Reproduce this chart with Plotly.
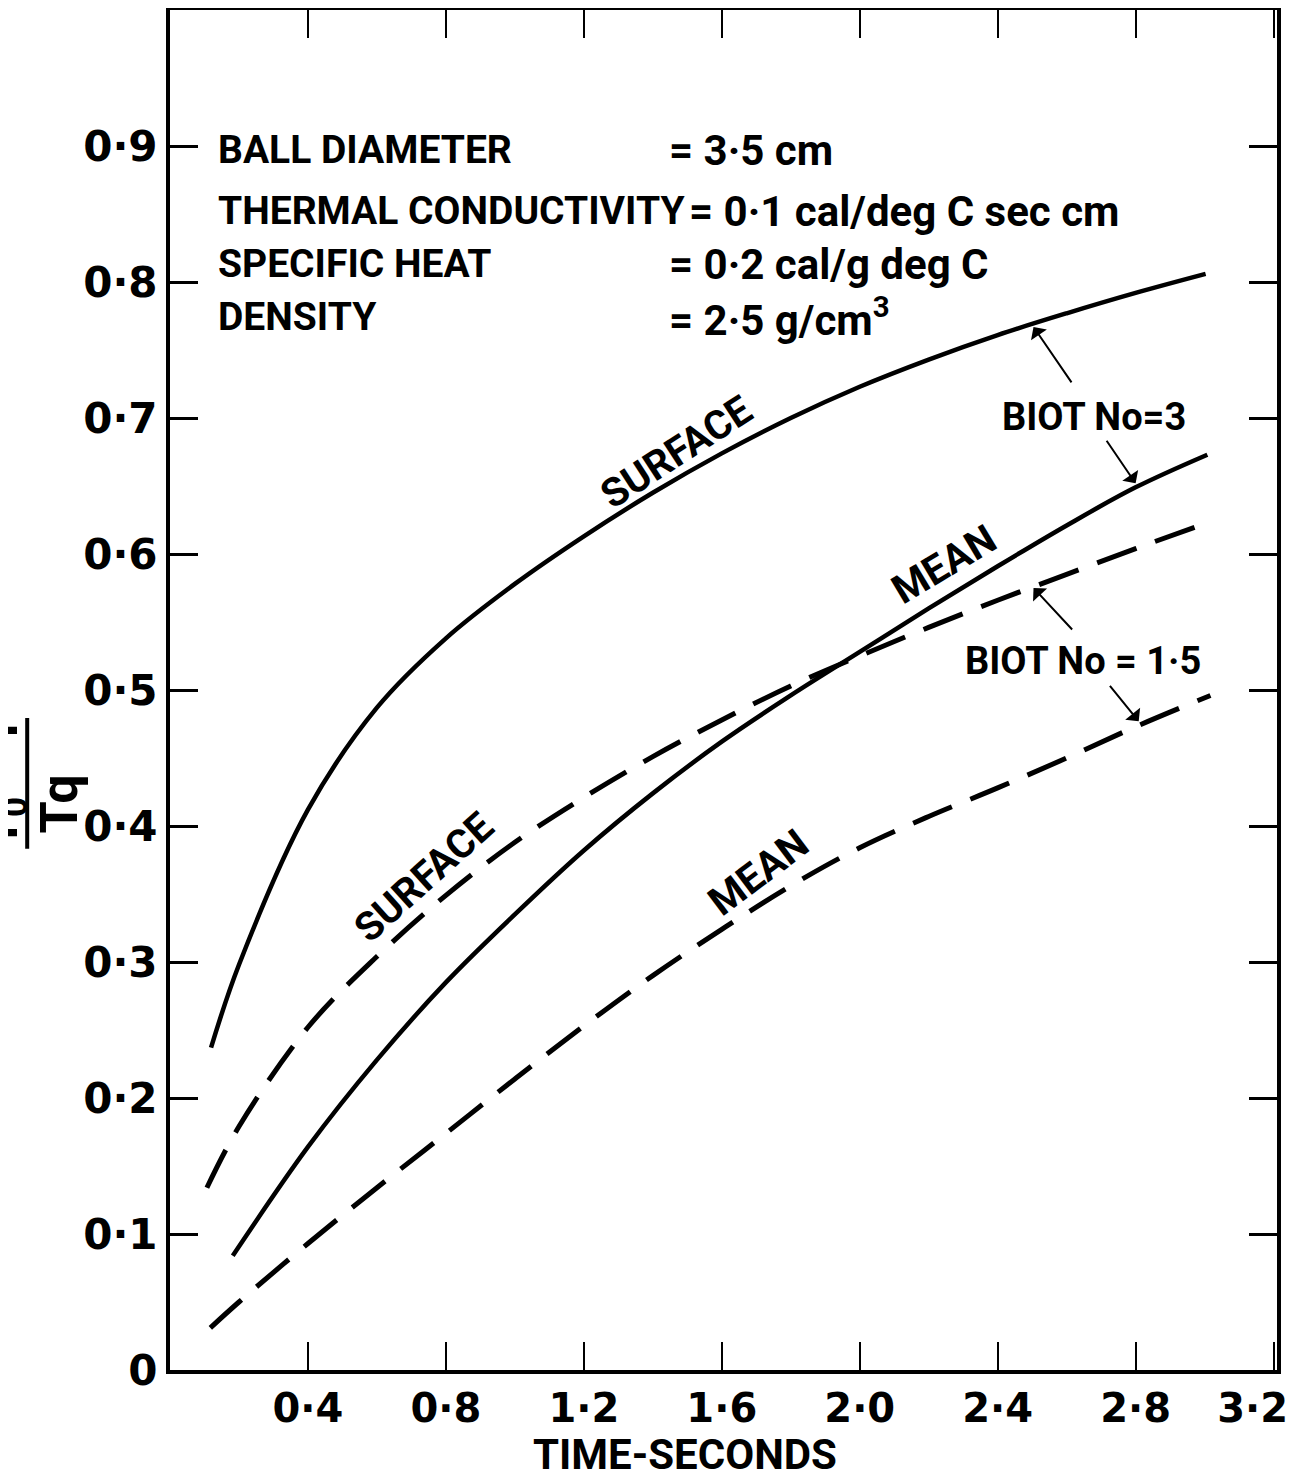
import plotly.graph_objects as go

# ---- data ----
t_surf3 = [0.119, 0.2, 0.4, 0.6, 0.8, 1.0, 1.2, 1.4, 1.6, 1.8, 2.0, 2.2, 2.4, 2.6, 2.8, 3.003]
v_surf3 = [0.237, 0.298, 0.412, 0.487, 0.538, 0.578, 0.613, 0.645, 0.674, 0.700, 0.723, 0.743, 0.761, 0.777, 0.792, 0.806]

t_mean3 = [0.182, 0.4, 0.6, 0.8, 1.0, 1.2, 1.4, 1.6, 1.8, 2.0, 2.2, 2.4, 2.6, 2.8, 3.008]
v_mean3 = [0.084, 0.164, 0.228, 0.285, 0.335, 0.382, 0.424, 0.462, 0.496, 0.528, 0.560, 0.591, 0.621, 0.649, 0.673]

t_surf15 = [0.107, 0.2, 0.4, 0.6, 0.8, 1.0, 1.2, 1.4, 1.6, 1.8, 2.0, 2.2, 2.4, 2.6, 2.8, 3.008]
v_surf15 = [0.134, 0.179, 0.252, 0.304, 0.349, 0.388, 0.421, 0.451, 0.478, 0.503, 0.525, 0.546, 0.566, 0.585, 0.604, 0.623]

t_mean15 = [0.117, 0.2, 0.4, 0.6, 0.8, 1.0, 1.2, 1.4, 1.6, 1.8, 2.0, 2.2, 2.4, 2.6, 2.8, 3.017]
v_mean15 = [0.031, 0.050, 0.093, 0.134, 0.174, 0.214, 0.253, 0.290, 0.324, 0.356, 0.384, 0.407, 0.428, 0.450, 0.473, 0.496]

x_tickvals = [0.4, 0.8, 1.2, 1.6, 2.0, 2.4, 2.8, 3.2]
x_ticktext = ["0·4", "0·8", "1·2", "1·6", "2·0", "2·4", "2·8", "3·2\u00a0\u00a0\u00a0"]
y_tickvals = [0, 0.1, 0.2, 0.3, 0.4, 0.5, 0.6, 0.7, 0.8, 0.9]
y_ticktext = ["0", "0·1", "0·2", "0·3", "0·4", "0·5", "0·6", "0·7", "0·8", "0·9"]

param_names = ["BALL DIAMETER", "THERMAL CONDUCTIVITY", "SPECIFIC HEAT", "DENSITY"]
param_values = ["= 3·5 cm", "= 0·1 cal/deg C sec cm", "= 0·2 cal/g deg C", "= 2·5 g/cm<sup>3</sup>"]
param_rows = [0.897, 0.852, 0.813, 0.774]
value_x = [1.44, 1.50, 1.44, 1.44]

FONT = "Roboto, Liberation Sans, sans-serif"
TICKFONT = "DejaVu Sans, sans-serif"


def f(size, family=FONT):
    return dict(size=size, family=family, weight="bold", color="black")


fig = go.Figure()
solid = dict(color="black", width=4.5)
dashed = dict(color="black", width=5, dash="42px,20px")
for tx, vy, ln in [(t_surf3, v_surf3, solid), (t_mean3, v_mean3, solid),
                   (t_surf15, v_surf15, dashed), (t_mean15, v_mean15, dashed)]:
    fig.add_trace(go.Scatter(x=tx, y=vy, mode="lines", line=dict(shape="spline", smoothing=1.0, **ln),
                             showlegend=False, hoverinfo="skip"))

ann = []
for name, val, yy, vx in zip(param_names, param_values, param_rows, value_x):
    ann.append(dict(x=0.133, y=yy, xref="x", yref="y", text=name, showarrow=False, xanchor="left", font=f(39)))
    ann.append(dict(x=vx, y=yy, xref="x", yref="y", text=val, showarrow=False, xanchor="left", font=f(42)))

labels = [
    ("SURFACE", 1.467, 0.675, -33),
    ("MEAN", 2.245, 0.592, -31),
    ("SURFACE", 0.736, 0.362, -42),
    ("MEAN", 1.707, 0.366, -37),
]
for txt, xx, yy, ang in labels:
    ann.append(dict(x=xx, y=yy, xref="x", yref="y", text=txt, showarrow=False, textangle=ang, font=f(40)))

ann.append(dict(x=2.678, y=0.701, xref="x", yref="y", text="BIOT No=3", showarrow=False, font=f(38)))
ann.append(dict(x=2.646, y=0.521, xref="x", yref="y", text="BIOT No = 1·5", showarrow=False, font=f(38)))

arrows = [(2.504, 0.767, 39, 57), (2.80, 0.652, -30, -44), (2.504, 0.575, 40, 43), (2.809, 0.477, -30, -37)]
for xx, yy, axx, ayy in arrows:
    ann.append(dict(x=xx, y=yy, xref="x", yref="y", text="", showarrow=True, ax=axx, ay=ayy,
                    arrowhead=1, arrowsize=1.6, arrowwidth=2, arrowcolor="black"))

# y-axis title as a fraction (partly cut by the left edge, as in the reference)
ann.append(dict(x=-0.150, y=0.433, xref="paper", yref="paper", text="T<sub>0</sub> − T", showarrow=False,
                xanchor="center", yanchor="middle", textangle=-90, font=f(50)))
ann.append(dict(x=-0.100, y=0.416, xref="paper", yref="paper", text="Tq", showarrow=False,
                xanchor="center", yanchor="middle", textangle=-90, font=f(52)))

# x-axis title
ann.append(dict(x=0.465, y=-0.0624, xref="paper", yref="paper", text="TIME-SECONDS", showarrow=False,
                xanchor="center", yanchor="middle", font=f(42)))

fig.update_layout(
    width=1288, height=1470,
    margin=dict(l=162, r=19, t=2, b=108, autoexpand=False),
    paper_bgcolor="white", plot_bgcolor="white",
    annotations=ann,
    shapes=[dict(type="line", xref="paper", yref="paper", x0=-0.129, x1=-0.129, y0=0.3833, y1=0.4794,
                 line=dict(color="black", width=4))],
    xaxis=dict(range=[0, 3.21], tickvals=x_tickvals, ticktext=x_ticktext, showgrid=False, zeroline=False,
               showline=True, linecolor="black", linewidth=4, mirror="ticks",
               ticks="inside", ticklen=28, tickwidth=2, tickcolor="black",
               ticklabeloverflow="allow",
               tickfont=f(40, TICKFONT)),
    yaxis=dict(range=[0, 1.0], tickvals=y_tickvals, ticktext=y_ticktext, showgrid=False, zeroline=False,
               showline=True, linecolor="black", linewidth=4, mirror="ticks",
               ticks="inside", ticklen=28, tickwidth=2.5, tickcolor="black",
               tickfont=f(42, TICKFONT)),
)

fig.write_html("out.html")
